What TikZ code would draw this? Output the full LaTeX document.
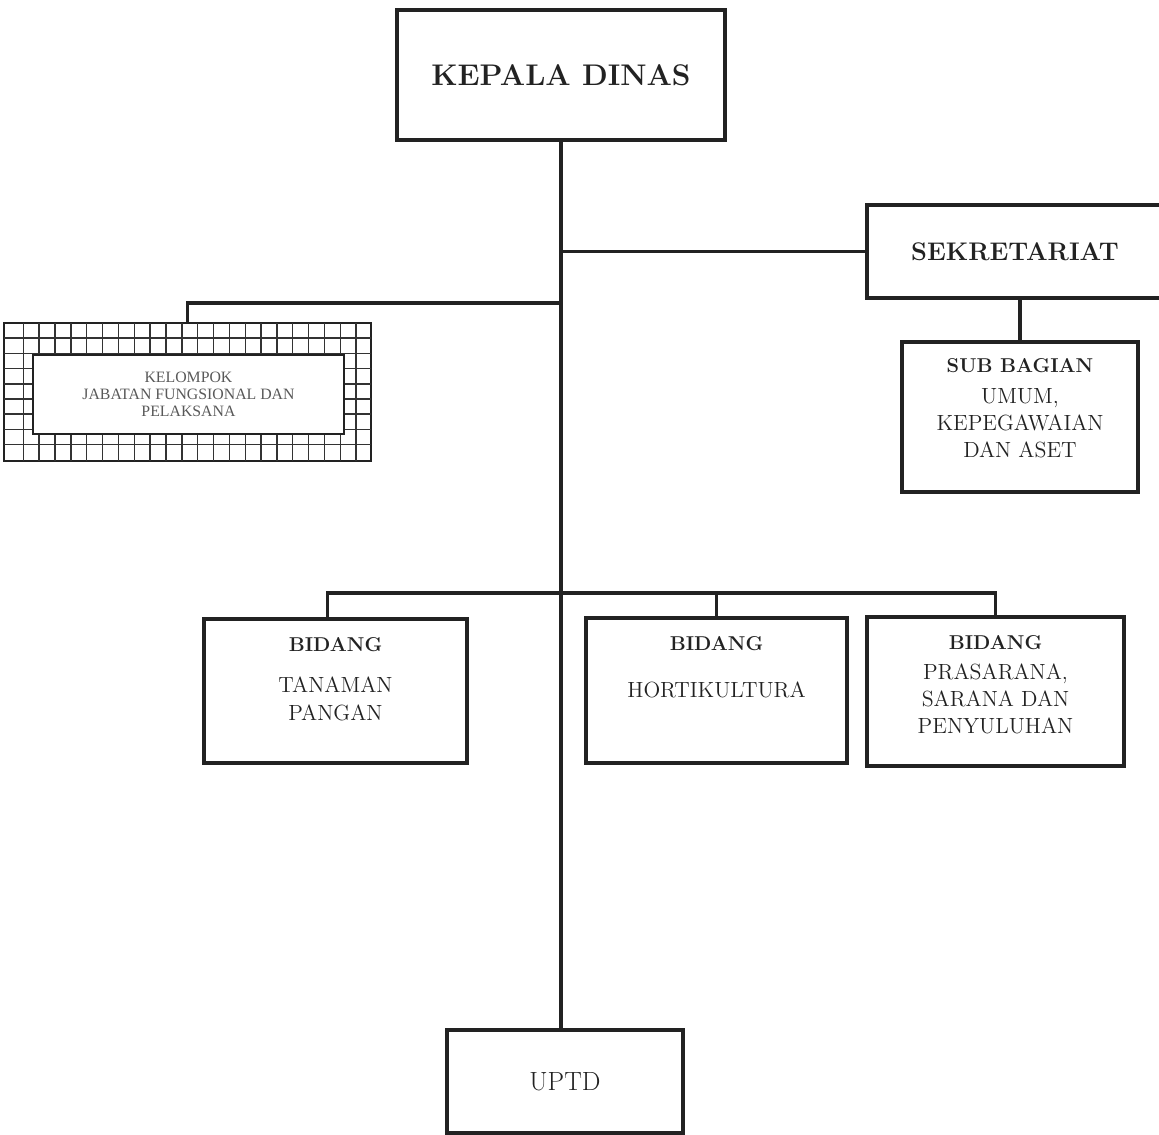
\documentclass[tikz,border=0pt]{standalone}
\usepackage{fontspec}
\newfontfamily\timesfont{Liberation Serif}
\usetikzlibrary{positioning}
\definecolor{ink}{HTML}{222222}
\tikzset{
    box/.style = {draw=ink, rectangle, line width=1.9pt, fill=white, text=ink, align=center},
    link/.style = {draw=ink, line width=1.9pt},
    gridline/.style = {draw=gray!40!black, line width=0.8pt},
    bigtext/.style = {font=\fontsize{17}{20}\selectfont\bfseries},
    headtext/.style = {font=\fontsize{14.5}{17}\selectfont\bfseries},
    bodytext/.style = {align=center, text=ink, inner sep=0pt,
        font=\fontsize{12.5}{15.5}\selectfont}
}
\newcommand{\hd}[1]{{\fontsize{11.4}{14}\selectfont\bfseries #1}}

\begin{document}
\begin{tikzpicture}[x=0.02cm, y=-0.02cm]
            \useasboundingbox (0,0) rectangle (1159,1135);
            \node [box, bigtext, minimum width=6.56cm, minimum height=2.6cm] (kadis) at (561,75) {KEPALA DINAS};
            \node [box, headtext, minimum width=5.92cm, minimum height=1.86cm] (sekre) at (1015,251.5) {SEKRETARIAT};
            \node [box, minimum width=4.72cm, minimum height=3cm] (sub) at (1020,417) {};
            \node [bodytext, below=10.2pt of sub.north] (subtxt) {\hd{SUB BAGIAN}\\[2pt]UMUM,\\KEPEGAWAIAN\\DAN ASET};

            \node [draw=ink, line width=1pt, minimum width=7.34cm, minimum height=2.76cm] (grid) at (187.5,392) {};
            \foreach \i in {0,...,21}
                \draw [gridline] ({23.3+15.85*\i},323) -- ++(0,138);
            \foreach \j in {1,...,8}
                \draw [gridline] (4,{323+15.2*\j}) -- ++(367,0);
            \node [box, line width=1pt, text=gray!70!black, minimum width=6.22cm, minimum height=1.58cm,
                font=\timesfont\fontsize{9}{9.6}\selectfont] (kjf) at (188.5,394.5) {KELOMPOK\\JABATAN FUNGSIONAL DAN\\PELAKSANA};

            \node [box, minimum width=5.26cm, minimum height=2.88cm] (b1) at (335.5,691) {};
            \node [box, minimum width=5.22cm, minimum height=2.9cm] (b2) at (716.5,690.5) {};
            \node [box, minimum width=5.14cm, minimum height=2.98cm] (b3) at (995.5,691.5) {};
            \node [bodytext, below=11.3pt of b1.north] (t1) {\hd{BIDANG}\\[8pt]TANAMAN\\PANGAN};
            \node [bodytext, below=11.3pt of b2.north] (t2) {\hd{BIDANG}\\[11pt]HORTIKULTURA};
            \node [bodytext, below=11.3pt of b3.north] (t3) {\hd{BIDANG}\\[1.5pt]PRASARANA,\\SARANA DAN\\PENYULUHAN};

            \node [box, font=\fontsize{15}{18}\selectfont, minimum width=4.72cm, minimum height=2.06cm] (uptd) at (565,1081.5) {UPTD};
            \coordinate (bus) at (561,593);

            \draw [link] (kadis.south) -- (kadis.south |- uptd.north);
            \draw [link] (sekre.west) -- (sekre.west -| kadis.south);
            \draw [link] (sub.north) -- (sub.north |- sekre.south);
            \draw [link] (grid.north) |- (kadis.south |- 0,303);
            \draw [link] ([xshift=-4.5pt]b1.north) |- (bus) -| (b3.north);
            \draw [link] (b2.north) -- (b2.north |- bus);
        \end{tikzpicture}
\end{document}
